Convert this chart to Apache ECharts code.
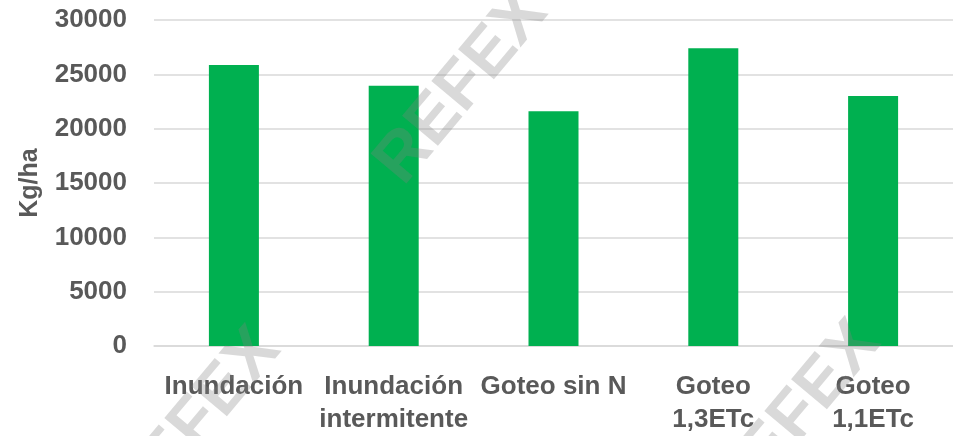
<!DOCTYPE html>
<html>
<head>
<meta charset="utf-8">
<script src="https://cdn.jsdelivr.net/npm/echarts@6/dist/echarts.min.js"></script>
<style>
  html, body { margin: 0; padding: 0; background: #fff; }
  #chart { width: 953px; height: 436px; }
</style>
</head>
<body>
<div id="chart"></div>
<script>
const categories = [
  'Inundación',
  'Inundación\nintermitente',
  'Goteo sin N',
  'Goteo\n1,3ETc',
  'Goteo\n1,1ETc'
]
const yieldKgHa = [25850, 23950, 21600, 27400, 23000]
const yTicks = [0, 5000, 10000, 15000, 20000, 25000, 30000]

const textColor = '#595959'
const fontFamily = 'Liberation Sans, Arial, sans-serif'

// marca de agua REFEX (centro de cada copia)
const watermarks = [[462, 88], [195, 425], [795, 418]]

const chart = echarts.init(document.getElementById('chart'))
const option = {
  animation: false,
  textStyle: { fontFamily },
  grid: { left: 154, right: 0, top: 20, bottom: 90 },
  xAxis: {
    type: 'category',
    data: categories,
    axisLine: { lineStyle: { color: '#d9d9d9', width: 1.5 } },
    axisTick: { show: false },
    axisLabel: {
      interval: 0,
      margin: 24,
      color: textColor,
      fontSize: 26,
      fontWeight: 'bold',
      lineHeight: 33
    }
  },
  yAxis: {
    type: 'value',
    min: yTicks[0],
    max: yTicks[yTicks.length - 1],
    interval: 5000,
    name: 'Kg/ha',
    nameLocation: 'middle',
    nameGap: 111,
    nameTextStyle: { color: textColor, fontSize: 25, fontWeight: 'bold' },
    axisLine: { show: false },
    axisTick: { show: false },
    splitLine: { lineStyle: { color: '#d9d9d9', width: 1.5 } },
    axisLabel: {
      margin: 27,
      color: textColor,
      fontSize: 26,
      fontWeight: 'bold',
      formatter: v => String(v)
    }
  },
  series: [
    {
      type: 'bar',
      data: yieldKgHa,
      barWidth: 50,
      itemStyle: { color: '#00B050' }
    }
  ],
  graphic: watermarks.map(([x, y]) => ({
    type: 'text',
    x,
    y,
    rotation: 50 * Math.PI / 180,
    z: 100,
    silent: true,
    style: {
      text: 'REFEX',
      fontSize: 68,
      fontWeight: 'bold',
      fontFamily,
      fill: 'rgba(130,130,130,0.3)',
      align: 'center',
      verticalAlign: 'middle'
    }
  }))
}
chart.setOption(option)
</script>
</body>
</html>
